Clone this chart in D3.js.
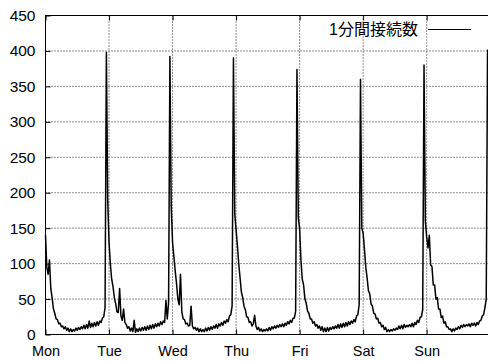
<!DOCTYPE html>
<html>
<head>
<meta charset="utf-8">
<script src="https://cdn.jsdelivr.net/npm/d3@7"></script>
<style>
body { margin: 0; background: #fff; }
svg { display: block; font-family: "Liberation Sans", Arial, Helvetica, sans-serif; }
</style>
</head>
<body>
<svg id="chart" width="488" height="361"></svg>
<script>
// Tick labels
const days = ["Mon", "Tue", "Wed", "Thu", "Fri", "Sat", "Sun"];
const yTicks = [0, 50, 100, 150, 200, 250, 300, 350, 400, 450];
const seriesName = "1分間接続数";

// Connections per minute, read every 30 minutes (48 readings per day from 00:00)
const slotsPerDay = 48;
const mon = [140, 95, 85, 105, 65, 52, 36, 30, 22, 21, 15, 16, 11, 12, 8, 11, 6, 9, 4, 8, 4, 7, 5, 9,
             6, 10, 7, 11, 8, 13, 8, 14, 9, 19, 10, 16, 11, 17, 12, 18, 13, 19, 17, 23, 25, 38, 398, 190];
const tue = [130, 100, 78, 68, 52, 44, 32, 31, 65, 26, 20, 36, 17, 14, 9, 11, 5, 9, 4, 20, 3, 8, 4, 9,
             5, 10, 6, 11, 6, 12, 7, 13, 8, 14, 9, 15, 11, 16, 12, 18, 14, 19, 17, 48, 22, 45, 392, 180];
const wed = [130, 110, 90, 72, 50, 42, 85, 32, 22, 21, 15, 16, 12, 13, 40, 12, 8, 10, 6, 9, 4, 8, 4, 7,
             4, 9, 5, 10, 6, 11, 7, 12, 9, 14, 9, 15, 12, 17, 13, 19, 16, 21, 18, 26, 28, 40, 390, 170];
const thu = [148, 125, 100, 80, 60, 52, 40, 35, 25, 24, 17, 18, 12, 15, 27, 12, 7, 10, 5, 8, 4, 7, 5, 8,
             5, 10, 6, 11, 8, 12, 9, 13, 10, 14, 11, 15, 11, 16, 13, 18, 15, 20, 17, 23, 23, 33, 374, 165];
const fri = [150, 105, 78, 70, 50, 44, 33, 30, 22, 22, 16, 18, 12, 14, 9, 12, 6, 11, 4, 9, 4, 10, 5, 10,
             7, 11, 8, 12, 9, 14, 9, 15, 10, 16, 11, 17, 12, 18, 14, 19, 16, 21, 18, 26, 28, 42, 360, 150];
const sat = [143, 120, 95, 80, 62, 57, 43, 40, 30, 29, 22, 23, 16, 17, 11, 13, 7, 10, 4, 7, 4, 7, 5, 8,
             6, 9, 7, 12, 8, 13, 8, 14, 10, 13, 11, 14, 11, 16, 11, 17, 14, 20, 17, 24, 25, 35, 380, 160];
const sun = [138, 122, 140, 98, 96, 70, 70, 50, 52, 36, 36, 24, 26, 16, 18, 11, 11, 7, 8, 4, 8, 5, 9, 7,
             11, 8, 13, 10, 14, 11, 14, 12, 15, 11, 16, 13, 16, 12, 17, 14, 19, 20, 26, 28, 38, 50, 402];

const dayValues = [mon, tue, wed, thu, fri, sat, sun];
const data = [];
dayValues.forEach((vals, d) => {
	vals.forEach((v, i) => data.push({ t: d + i / slotsPerDay, v: v }));
});

const svg = d3.select("#chart");

// Scales: x in days since Monday 00:00, y in connections
const x = d3.scaleLinear().domain([0, 7]).range([45.5, 490.2]);
const y = d3.scaleLinear().domain([0, 450]).range([334.5, 15.5]);

// Dotted grid
svg.append("g")
	.selectAll("line")
	.data(yTicks.slice(1, -1))
	.join("line")
	.attr("x1", x(0)).attr("x2", x(7))
	.attr("y1", d => y(d)).attr("y2", d => y(d))
	.attr("stroke", "#222")
	.attr("stroke-dasharray", "1,2");

svg.append("g")
	.selectAll("line")
	.data(d3.range(1, days.length))
	.join("line")
	.attr("x1", d => x(d)).attr("x2", d => x(d))
	.attr("y1", y(0)).attr("y2", y(450))
	.attr("stroke", "#222")
	.attr("stroke-dasharray", "1,2");

// Axes with inward ticks
const yAxis = svg.append("g")
	.attr("transform", `translate(${x(0)},0)`)
	.call(d3.axisLeft(y).tickValues(yTicks).tickSize(-5).tickPadding(10));

const xAxis = svg.append("g")
	.attr("transform", `translate(0,${y(0)})`)
	.call(d3.axisBottom(x).tickValues(d3.range(days.length)).tickFormat(i => days[i]).tickSize(-5).tickPadding(11.5));

const topAxis = svg.append("g")
	.attr("transform", `translate(0,${y(450)})`)
	.call(d3.axisTop(x).tickValues(d3.range(days.length)).tickFormat("").tickSize(-5));

[yAxis, xAxis, topAxis].forEach(g => {
	g.select(".domain").remove();
	g.selectAll("line").attr("stroke", "#000");
	g.selectAll("text").attr("fill", "#000");
});
yAxis.selectAll("text").style("font-size", "15.5px");
xAxis.selectAll("text").style("font-size", "14.5px");

// Plot border
svg.append("rect")
	.attr("x", x(0)).attr("y", y(450))
	.attr("width", x(7) - x(0)).attr("height", y(0) - y(450))
	.attr("fill", "none")
	.attr("stroke", "#000");

// Data line
const line = d3.line()
	.x(d => x(d.t))
	.y(d => y(d.v));

svg.append("path")
	.datum(data)
	.attr("fill", "none")
	.attr("stroke", "#000")
	.attr("stroke-width", 1.5)
	.attr("stroke-linejoin", "round")
	.attr("d", line);

// Legend
svg.append("text")
	.attr("x", 418).attr("y", 34.5)
	.attr("text-anchor", "end")
	.style("font-family", "'Liberation Sans', 'Noto Sans CJK JP', sans-serif")
	.style("font-size", "16px")
	.text(seriesName);

svg.append("line")
	.attr("x1", 428).attr("x2", 471)
	.attr("y1", 29.5).attr("y2", 29.5)
	.attr("stroke", "#000");
</script>
</body>
</html>
